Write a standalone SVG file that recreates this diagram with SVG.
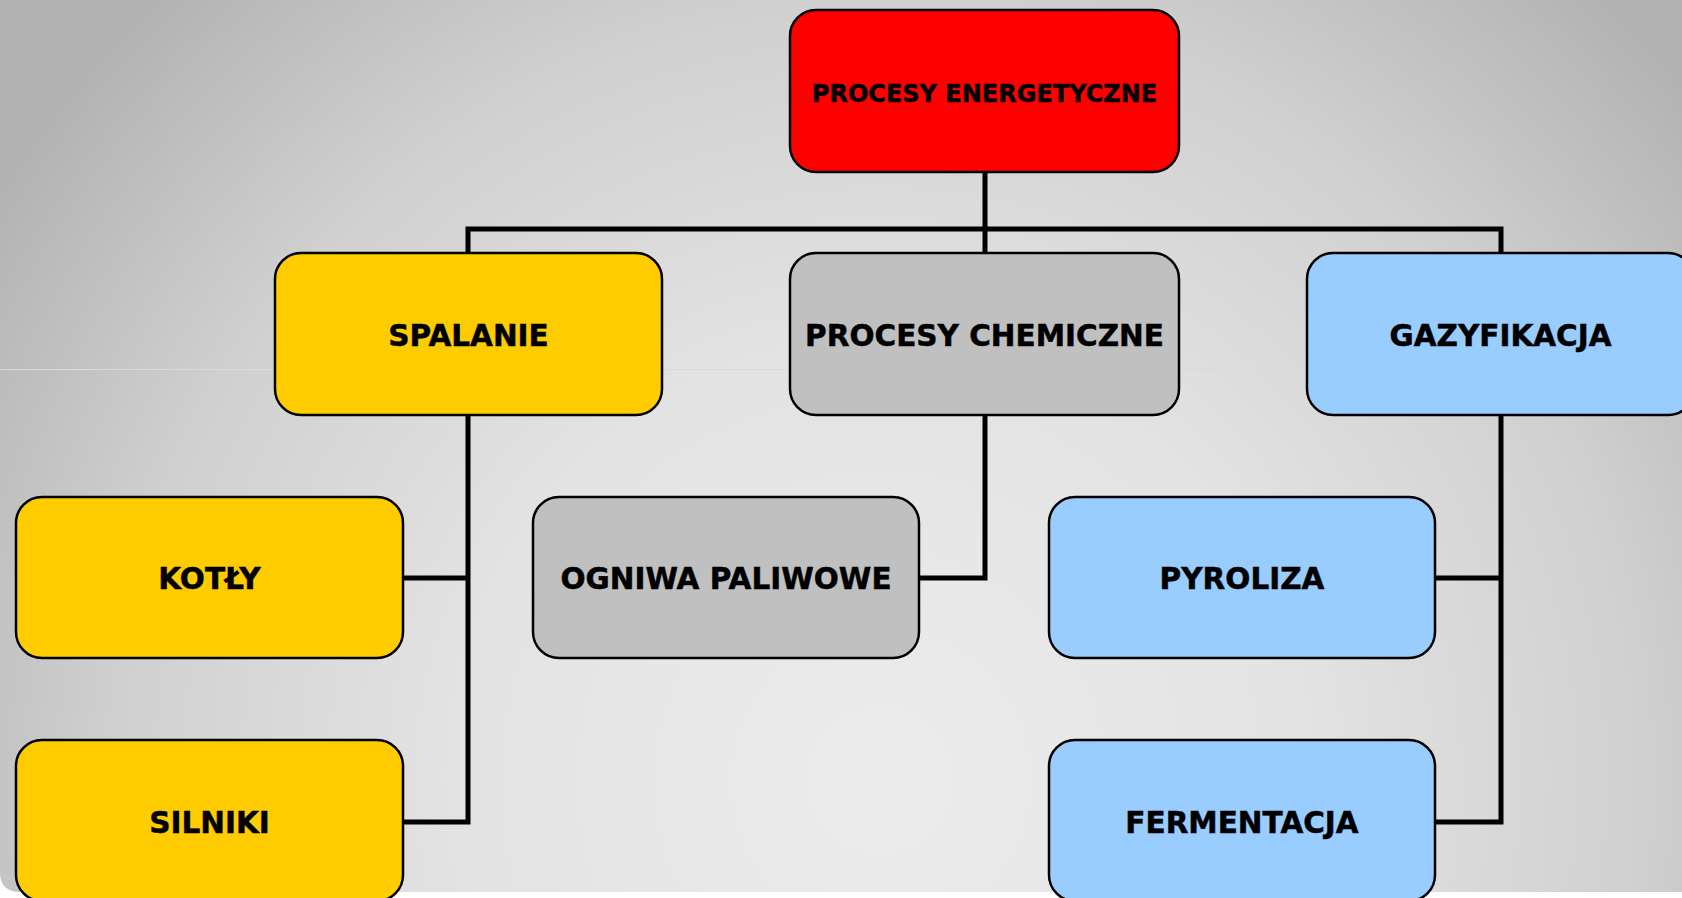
<svg xmlns="http://www.w3.org/2000/svg" width="1682" height="898" viewBox="0 0 1682 898">
  <defs>
    <radialGradient id="bg" gradientUnits="userSpaceOnUse" cx="880" cy="780" r="1060" gradientTransform="translate(880 780) scale(1 1.02) translate(-880 -780)">
      <stop offset="0" stop-color="#ececec"/>
      <stop offset="0.4" stop-color="#e3e3e3"/>
      <stop offset="0.72" stop-color="#d0d0d0"/>
      <stop offset="1" stop-color="#b2b2b2"/>
    </radialGradient>
    <style>
      .box { stroke: #000; stroke-width: 2.5; }
      .red { fill: #ff0000; }
      .yel { fill: #ffcc00; }
      .gry { fill: #c0c0c0; }
      .blu { fill: #99ccff; }
      .t { font-family: "DejaVu Sans", Verdana, sans-serif; font-weight: bold; fill: #000; stroke: #000; stroke-width: 0.5; text-anchor: middle; }
      .l1 { font-size: 24px; }
      .l2 { font-size: 29.5px; }
      .conn { fill: none; stroke: #000; stroke-width: 5; stroke-linejoin: miter; stroke-linecap: butt; }
    </style>
  </defs>
  <rect x="0" y="0" width="1682" height="898" fill="#ffffff"/>
  <path d="M0 0 H1682 V892 H20 Q0 892 0 872 Z" fill="url(#bg)"/>
  <line x1="0" y1="369.5" x2="1682" y2="369.5" stroke="#dadada" stroke-width="1"/>

  <g id="connectors">
    <path class="conn" d="M985 172 V231"/>
    <path class="conn" d="M468 253 V229 H1501 V253"/>
    <path class="conn" d="M985 229 V253"/>
    <path class="conn" d="M468 415 V822 H403"/>
    <path class="conn" d="M468 578 H403"/>
    <path class="conn" d="M985 415 V578 H919"/>
    <path class="conn" d="M1501 415 V822 H1435"/>
    <path class="conn" d="M1501 578 H1435"/>
  </g>

  <g id="procesy-energetyczne">
    <rect class="box red" x="790" y="10" width="389" height="162" rx="26"/>
    <text class="t l1" x="984.5" y="102">PROCESY ENERGETYCZNE</text>
  </g>
  <g id="spalanie">
    <rect class="box yel" x="275" y="253" width="387" height="162" rx="26"/>
    <text class="t l2" x="468.5" y="346">SPALANIE</text>
  </g>
  <g id="procesy-chemiczne">
    <rect class="box gry" x="790" y="253" width="389" height="162" rx="26"/>
    <text class="t l2" x="984.5" y="346">PROCESY CHEMICZNE</text>
  </g>
  <g id="gazyfikacja">
    <rect class="box blu" x="1307" y="253" width="387" height="162" rx="26"/>
    <text class="t l2" x="1500.5" y="346">GAZYFIKACJA</text>
  </g>
  <g id="kotly">
    <rect class="box yel" x="16" y="497" width="387" height="161" rx="26"/>
    <text class="t l2" x="209.5" y="589">KOTŁY</text>
  </g>
  <g id="silniki">
    <rect class="box yel" x="16" y="740" width="387" height="161" rx="26"/>
    <text class="t l2" x="209.5" y="833">SILNIKI</text>
  </g>
  <g id="ogniwa-paliwowe">
    <rect class="box gry" x="533" y="497" width="386" height="161" rx="26"/>
    <text class="t l2" x="726" y="589">OGNIWA PALIWOWE</text>
  </g>
  <g id="piroliza">
    <rect class="box blu" x="1049" y="497" width="386" height="161" rx="26"/>
    <text class="t l2" x="1242" y="589">PYROLIZA</text>
  </g>
  <g id="fermentacja">
    <rect class="box blu" x="1049" y="740" width="386" height="161" rx="26"/>
    <text class="t l2" x="1242" y="833">FERMENTACJA</text>
  </g>
</svg>
